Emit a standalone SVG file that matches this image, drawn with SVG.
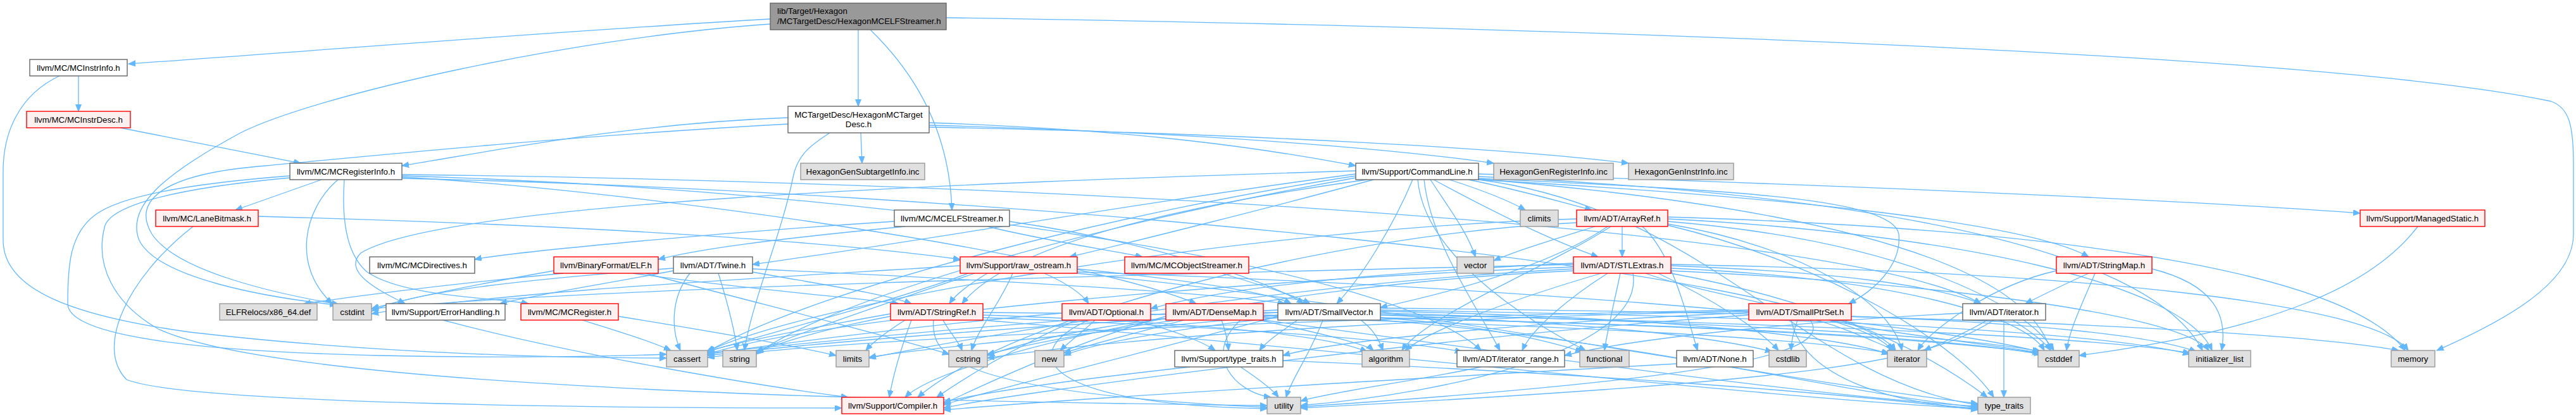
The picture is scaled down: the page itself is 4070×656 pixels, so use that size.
<svg xmlns="http://www.w3.org/2000/svg" width="4070" height="656" viewBox="0 0 4070 656">
<defs>
<style>
.e{fill:none;stroke:#63b8ff;stroke-width:1.3;marker-end:url(#ah)}
rect{stroke-width:1.4}
.w{fill:#ffffff;stroke:#666666}
.g{fill:#e0e0e0;stroke:#999999}
.r{fill:#fff0f0;stroke:#ff0000}
.t{fill:#999999;stroke:#666666}
text{font-family:"Liberation Sans",Arial,Helvetica,sans-serif;font-size:13.3px;fill:#000000;text-anchor:middle}
text.l{text-anchor:start}
</style>
<marker id="ah" markerUnits="userSpaceOnUse" markerWidth="12" markerHeight="10" refX="11" refY="4.5" orient="auto"><path d="M0,0 L11,4.5 L0,9 z" fill="#63b8ff" stroke="#63b8ff"/></marker>
</defs>
<rect x="0" y="0" width="4070" height="656" fill="#ffffff" stroke="none"/>
<g id="edges">
<path class="e" d="M1217,30 C 900,48 500,80 203,101"/>
<path class="e" d="M1217,38 C 900,60 500,150 380,210 C 250,280 200,330 220,380 C 250,440 420,470 532,482"/>
<path class="e" d="M1356,47 L1356,168"/>
<path class="e" d="M1375,47 C 1440,110 1500,200 1504,332"/>
<path class="e" d="M1495,28 C 2600,45 3700,90 4030,160 C 4060,170 4066,200 4066,260 L4066,370 C 4066,450 3950,510 3850,554"/>
<path class="e" d="M124,120 L124,176"/>
<path class="e" d="M94,120 C 30,150 5,210 5,270 L5,380 C 5,460 120,500 300,525 C 600,560 900,566 1053,566"/>
<path class="e" d="M190,202 L475,258"/>
<path class="e" d="M1245,186 C 1000,195 800,235 635,262"/>
<path class="e" d="M1245,196 C 900,215 600,245 420,262 C 250,275 210,320 240,370 C 280,430 440,465 535,481"/>
<path class="e" d="M1311,210 C 1280,230 1260,245 1253,280 C 1235,370 1190,470 1176,554"/>
<path class="e" d="M1360,210 L1362,258"/>
<path class="e" d="M1468,194 C 1800,205 2000,235 2142,262"/>
<path class="e" d="M1468,198 C 1900,210 2200,235 2360,258"/>
<path class="e" d="M1468,201 C 2000,212 2400,236 2573,258"/>
<path class="e" d="M508,284 L372,332"/>
<path class="e" d="M534,284 C 480,330 460,420 525,480"/>
<path class="e" d="M544,284 C 540,340 545,400 580,430 C 640,470 780,470 835,480"/>
<path class="e" d="M458,278 C 300,290 190,310 150,340 C 110,370 107,420 107,480 C 107,530 300,555 600,562 C 850,567 1000,562 1053,560"/>
<path class="e" d="M458,281 C 250,300 170,330 165,360 C 150,420 180,480 250,520 C 400,590 1000,630 2002,641"/>
<path class="e" d="M635,280 C 1000,300 1700,400 1890,480"/>
<path class="e" d="M635,276 C 1500,285 2900,350 3130,480"/>
<path class="e" d="M635,278 C 1400,300 2200,420 2340,554"/>
<path class="e" d="M635,282 C 1500,300 2900,420 2995,554"/>
<path class="e" d="M2320,284 C 2400,300 2450,315 2515,332"/>
<path class="e" d="M2265,284 C 2350,330 2450,380 2525,406"/>
<path class="e" d="M2336,282 C 2700,300 2990,310 3000,370 C 3005,420 2960,460 2921,480"/>
<path class="e" d="M2232,284 C 2200,360 2150,440 2112,480"/>
<path class="e" d="M2336,284 C 2800,310 3200,350 3300,406"/>
<path class="e" d="M2160,284 C 1900,320 1600,380 1520,480"/>
<path class="e" d="M2142,275 C 1800,320 1400,390 1189,418"/>
<path class="e" d="M2250,284 C 2260,380 2330,480 2370,554"/>
<path class="e" d="M2142,270 C 1500,290 700,320 570,400 C 540,430 600,460 640,480"/>
<path class="e" d="M2336,275 C 3000,295 3500,320 3729,337"/>
<path class="e" d="M2170,284 C 2000,330 1800,380 1690,406"/>
<path class="e" d="M2142,278 C 1800,330 1300,450 1118,556"/>
<path class="e" d="M2290,284 C 2340,300 2380,315 2410,332"/>
<path class="e" d="M2336,283 C 2900,330 3200,420 3240,554"/>
<path class="e" d="M2240,284 C 2250,400 2400,500 2505,554"/>
<path class="e" d="M2336,279 C 3000,310 3400,400 3480,554"/>
<path class="e" d="M2142,281 C 1700,360 1300,480 1195,560"/>
<path class="e" d="M2336,284 C 2700,330 2850,600 3125,640"/>
<path class="e" d="M2260,284 C 2290,330 2320,370 2331,406"/>
<path class="e" d="M2563,358 L2563,406"/>
<path class="e" d="M2520,358 C 2450,380 2400,395 2360,412"/>
<path class="e" d="M2540,358 C 2450,420 2300,460 2181,486"/>
<path class="e" d="M2545,358 C 2450,420 2250,500 2215,554"/>
<path class="e" d="M2595,358 C 2640,400 2660,480 2682,554"/>
<path class="e" d="M2491,352 C 2100,370 1600,500 1450,628"/>
<path class="e" d="M2491,346 C 2000,360 1300,470 1116,556"/>
<path class="e" d="M2635,350 C 3000,380 3200,480 3245,554"/>
<path class="e" d="M2635,346 C 3100,370 3450,450 3495,554"/>
<path class="e" d="M2635,354 C 2850,390 2990,480 3005,554"/>
<path class="e" d="M2635,343 C 3200,360 3700,420 3800,554"/>
<path class="e" d="M2635,356 C 2900,420 3100,550 3150,628"/>
<path class="e" d="M2640,420 C 2900,430 3050,450 3130,480"/>
<path class="e" d="M2540,432 C 2480,470 2420,520 2405,554"/>
<path class="e" d="M2486,428 C 2000,450 1500,560 1430,628"/>
<path class="e" d="M2530,432 C 2400,470 2260,520 2220,554"/>
<path class="e" d="M2486,422 C 2000,440 1300,500 1118,560"/>
<path class="e" d="M2640,424 C 3000,440 3200,500 3230,554"/>
<path class="e" d="M2486,418 C 2000,430 1000,450 587,488"/>
<path class="e" d="M2620,432 C 2700,470 2780,520 2810,554"/>
<path class="e" d="M2560,432 C 2550,480 2540,520 2535,554"/>
<path class="e" d="M2640,428 C 3100,450 3450,500 3490,554"/>
<path class="e" d="M2600,432 C 2700,470 2950,500 2990,554"/>
<path class="e" d="M2486,425 C 2000,450 1500,540 1373,566"/>
<path class="e" d="M2640,418 C 3300,430 3750,480 3805,554"/>
<path class="e" d="M2640,432 C 2900,480 3050,560 3140,628"/>
<path class="e" d="M2580,432 C 2600,550 2300,620 2055,641"/>
<path class="e" d="M2486,416 C 2200,430 1950,450 1818,488"/>
<path class="e" d="M2019,500 C 1800,560 1550,620 1491,640"/>
<path class="e" d="M2050,506 C 2030,520 2000,540 1990,554"/>
<path class="e" d="M2150,506 C 2170,520 2180,540 2185,554"/>
<path class="e" d="M2019,494 C 1700,510 1300,540 1118,562"/>
<path class="e" d="M2181,495 C 2700,510 3100,530 3225,556"/>
<path class="e" d="M2181,498 C 2500,510 2700,530 2800,556"/>
<path class="e" d="M2019,490 C 1800,500 1650,530 1560,562"/>
<path class="e" d="M2181,502 C 2350,515 2450,540 2500,556"/>
<path class="e" d="M2181,490 C 2800,500 3300,520 3460,560"/>
<path class="e" d="M2181,492 C 2600,500 2900,530 2985,560"/>
<path class="e" d="M2019,498 C 1800,520 1450,550 1373,565"/>
<path class="e" d="M2181,487 C 3000,495 3600,520 3790,554"/>
<path class="e" d="M2019,502 C 1850,520 1720,545 1681,562"/>
<path class="e" d="M2181,506 C 2600,540 2900,620 3125,644"/>
<path class="e" d="M2090,506 C 2070,560 2040,600 2032,628"/>
<path class="e" d="M2763,498 C 2300,530 1600,620 1491,645"/>
<path class="e" d="M2840,506 C 2835,520 2830,540 2830,554"/>
<path class="e" d="M2870,506 C 2920,520 2960,540 2995,554"/>
<path class="e" d="M2890,506 C 3000,530 3150,545 3225,558"/>
<path class="e" d="M2925,500 C 3200,510 3400,530 3470,556"/>
<path class="e" d="M2860,506 C 2900,560 2700,600 2055,643"/>
<path class="e" d="M2763,494 C 2400,510 2100,540 2027,562"/>
<path class="e" d="M2763,490 C 2200,500 1400,530 1118,565"/>
<path class="e" d="M2763,492 C 2300,500 1800,530 1560,566"/>
<path class="e" d="M2830,506 C 2850,600 3000,640 3125,645"/>
<path class="e" d="M3101,495 C 2900,505 2600,530 2472,562"/>
<path class="e" d="M3140,506 C 3100,530 3060,545 3040,554"/>
<path class="e" d="M3180,506 C 3210,525 3230,540 3240,554"/>
<path class="e" d="M3166,506 L3166,628"/>
<path class="e" d="M3150,506 C 3050,570 2900,600 2055,645"/>
<path class="e" d="M3300,432 C 3260,450 3230,465 3200,480"/>
<path class="e" d="M3400,425 C 3500,450 3520,500 3510,554"/>
<path class="e" d="M3310,432 C 3290,480 3270,520 3265,554"/>
<path class="e" d="M3249,428 C 3150,450 3050,520 3030,554"/>
<path class="e" d="M3820,358 C 3750,450 3600,520 3285,562"/>
<path class="e" d="M1413,350 C 1100,370 800,400 750,410"/>
<path class="e" d="M1430,358 C 1200,380 1100,395 1040,410"/>
<path class="e" d="M1560,358 C 1650,380 1750,395 1805,406"/>
<path class="e" d="M1595,350 C 1800,380 2000,440 2060,480"/>
<path class="e" d="M890,432 C 700,450 550,470 480,480"/>
<path class="e" d="M875,428 C 750,450 650,470 587,488"/>
<path class="e" d="M1000,432 C 1200,460 1350,470 1420,480"/>
<path class="e" d="M1020,432 C 1200,480 1400,530 1500,560"/>
<path class="e" d="M1189,425 C 1500,440 1900,460 2030,480"/>
<path class="e" d="M1189,430 C 1300,450 1400,465 1440,480"/>
<path class="e" d="M1064,428 C 950,450 850,465 790,480"/>
<path class="e" d="M1090,432 C 1060,470 1060,520 1075,554"/>
<path class="e" d="M1064,424 C 850,440 650,460 587,492"/>
<path class="e" d="M1135,432 C 1150,480 1160,520 1165,554"/>
<path class="e" d="M1560,432 C 1530,450 1510,465 1500,480"/>
<path class="e" d="M1600,432 C 1580,480 1545,520 1535,554"/>
<path class="e" d="M1650,432 C 1690,450 1710,465 1720,480"/>
<path class="e" d="M1702,425 C 1850,440 2000,460 2040,480"/>
<path class="e" d="M1517,420 C 1200,440 800,460 587,496"/>
<path class="e" d="M1530,432 C 1400,480 1200,530 1118,556"/>
<path class="e" d="M1540,432 C 1400,480 1250,530 1195,556"/>
<path class="e" d="M1702,430 C 2300,450 3000,500 3222,556"/>
<path class="e" d="M1702,432 C 2200,480 2800,600 3125,638"/>
<path class="e" d="M1930,432 C 1990,450 2040,465 2070,480"/>
<path class="e" d="M1730,506 C 1710,525 1690,540 1675,554"/>
<path class="e" d="M1790,506 C 1850,520 1900,540 1920,554"/>
<path class="e" d="M1700,506 C 1600,550 1520,600 1480,628"/>
<path class="e" d="M1720,506 C 1600,560 1650,640 2002,646"/>
<path class="e" d="M1678,495 C 1500,510 1250,540 1118,560"/>
<path class="e" d="M1930,506 C 1935,520 1940,540 1941,554"/>
<path class="e" d="M1870,506 C 1800,525 1720,545 1681,558"/>
<path class="e" d="M1860,506 C 1750,520 1620,545 1560,560"/>
<path class="e" d="M1960,506 C 1900,560 1950,620 2008,628"/>
<path class="e" d="M1990,506 C 2100,530 2160,545 2170,554"/>
<path class="e" d="M1842,500 C 1700,540 1550,610 1491,638"/>
<path class="e" d="M1996,498 C 2600,510 3000,530 3222,558"/>
<path class="e" d="M1996,494 C 2700,505 3300,530 3460,558"/>
<path class="e" d="M1996,502 C 2500,515 2850,535 2984,558"/>
<path class="e" d="M1842,496 C 1600,510 1300,540 1118,558"/>
<path class="e" d="M1996,506 C 2400,560 2900,630 3125,642"/>
<path class="e" d="M1490,506 C 1500,525 1515,540 1520,554"/>
<path class="e" d="M1430,506 C 1400,525 1380,540 1368,554"/>
<path class="e" d="M1440,506 C 1420,560 1410,600 1405,628"/>
<path class="e" d="M1475,506 C 1470,560 1500,620 2002,644"/>
<path class="e" d="M1407,500 C 1300,520 1220,545 1195,558"/>
<path class="e" d="M1407,496 C 1300,515 1170,540 1118,555"/>
<path class="e" d="M1553,498 C 1900,510 2100,530 2160,556"/>
<path class="e" d="M1553,502 C 1900,515 2200,535 2310,556"/>
<path class="e" d="M1553,494 C 2300,500 3000,520 3225,560"/>
<path class="e" d="M1553,506 C 2200,560 2800,630 3125,646"/>
<path class="e" d="M1960,580 C 1990,600 2010,615 2020,628"/>
<path class="e" d="M2027,570 C 2500,590 2900,620 3125,648"/>
<path class="e" d="M1880,580 C 1700,600 1550,620 1491,636"/>
<path class="e" d="M2340,580 C 2250,600 2100,620 2055,634"/>
<path class="e" d="M2649,575 C 2200,600 1700,630 1491,648"/>
<path class="e" d="M700,506 C 900,560 1200,610 1340,628"/>
<path class="e" d="M920,506 C 980,525 1030,540 1060,554"/>
<path class="e" d="M977,500 C 1100,520 1250,545 1321,562"/>
<path class="e" d="M408,342 C 900,355 1300,380 1517,410"/>
<path class="e" d="M305,358 C 200,440 150,550 200,600 C 300,640 1000,645 1330,645"/>
</g>
<g id="node-HexagonMCELFStreamer"><rect class="t" x="1217" y="5" width="278" height="42"/><text class="l" x="1228" y="22">lib/Target/Hexagon</text><text class="l" x="1228" y="38">/MCTargetDesc/HexagonMCELFStreamer.h</text></g>
<g id="node-MCInstrInfo"><rect class="w" x="47" y="94" width="154" height="26"/><text x="124" y="111.6">llvm/MC/MCInstrInfo.h</text></g>
<g id="node-MCInstrDesc"><rect class="r" x="42" y="176" width="164" height="26"/><text x="124" y="193.6">llvm/MC/MCInstrDesc.h</text></g>
<g id="node-HexagonMCTargetDesc"><rect class="w" x="1245" y="168" width="223" height="42"/><text x="1356.5" y="185.5">MCTargetDesc/HexagonMCTarget</text><text x="1356.5" y="201">Desc.h</text></g>
<g id="node-MCRegisterInfo"><rect class="w" x="458" y="258" width="177" height="26"/><text x="546.5" y="275.6">llvm/MC/MCRegisterInfo.h</text></g>
<g id="node-HexagonGenSubtargetInfo"><rect class="g" x="1265" y="258" width="196" height="26"/><text x="1363" y="275.6">HexagonGenSubtargetInfo.inc</text></g>
<g id="node-CommandLine"><rect class="w" x="2142" y="258" width="194" height="26"/><text x="2239" y="275.6">llvm/Support/CommandLine.h</text></g>
<g id="node-HexagonGenRegisterInfo"><rect class="g" x="2360" y="258" width="189" height="26"/><text x="2454.5" y="275.6">HexagonGenRegisterInfo.inc</text></g>
<g id="node-HexagonGenInstrInfo"><rect class="g" x="2573" y="258" width="166" height="26"/><text x="2656" y="275.6">HexagonGenInstrInfo.inc</text></g>
<g id="node-LaneBitmask"><rect class="r" x="246" y="332" width="162" height="26"/><text x="327" y="349.6">llvm/MC/LaneBitmask.h</text></g>
<g id="node-MCELFStreamer"><rect class="w" x="1413" y="332" width="182" height="26"/><text x="1504" y="349.6">llvm/MC/MCELFStreamer.h</text></g>
<g id="node-climits"><rect class="g" x="2402" y="332" width="60" height="26"/><text x="2432" y="349.6">climits</text></g>
<g id="node-ArrayRef"><rect class="r" x="2491" y="332" width="144" height="26"/><text x="2563" y="349.6">llvm/ADT/ArrayRef.h</text></g>
<g id="node-ManagedStatic"><rect class="r" x="3729" y="332" width="197" height="26"/><text x="3827.5" y="349.6">llvm/Support/ManagedStatic.h</text></g>
<g id="node-MCDirectives"><rect class="w" x="584" y="406" width="166" height="26"/><text x="667" y="423.6">llvm/MC/MCDirectives.h</text></g>
<g id="node-ELF"><rect class="r" x="875" y="406" width="165" height="26"/><text x="957.5" y="423.6">llvm/BinaryFormat/ELF.h</text></g>
<g id="node-Twine"><rect class="w" x="1064" y="406" width="125" height="26"/><text x="1126.5" y="423.6">llvm/ADT/Twine.h</text></g>
<g id="node-raw_ostream"><rect class="r" x="1517" y="406" width="185" height="26"/><text x="1609.5" y="423.6">llvm/Support/raw_ostream.h</text></g>
<g id="node-MCObjectStreamer"><rect class="r" x="1777" y="406" width="196" height="26"/><text x="1875" y="423.6">llvm/MC/MCObjectStreamer.h</text></g>
<g id="node-vector"><rect class="g" x="2302" y="406" width="58" height="26"/><text x="2331" y="423.6">vector</text></g>
<g id="node-STLExtras"><rect class="r" x="2486" y="406" width="154" height="26"/><text x="2563" y="423.6">llvm/ADT/STLExtras.h</text></g>
<g id="node-StringMap"><rect class="r" x="3249" y="406" width="151" height="26"/><text x="3324.5" y="423.6">llvm/ADT/StringMap.h</text></g>
<g id="node-ELFRelocs"><rect class="g" x="347" y="480" width="154" height="26"/><text x="424" y="497.6">ELFRelocs/x86_64.def</text></g>
<g id="node-cstdint"><rect class="g" x="526" y="480" width="61" height="26"/><text x="556.5" y="497.6">cstdint</text></g>
<g id="node-ErrorHandling"><rect class="w" x="610" y="480" width="188" height="26"/><text x="704" y="497.6">llvm/Support/ErrorHandling.h</text></g>
<g id="node-MCRegister"><rect class="r" x="823" y="480" width="154" height="26"/><text x="900" y="497.6">llvm/MC/MCRegister.h</text></g>
<g id="node-StringRef"><rect class="r" x="1407" y="480" width="146" height="26"/><text x="1480" y="497.6">llvm/ADT/StringRef.h</text></g>
<g id="node-Optional"><rect class="r" x="1678" y="480" width="140" height="26"/><text x="1748" y="497.6">llvm/ADT/Optional.h</text></g>
<g id="node-DenseMap"><rect class="r" x="1842" y="480" width="154" height="26"/><text x="1919" y="497.6">llvm/ADT/DenseMap.h</text></g>
<g id="node-SmallVector"><rect class="w" x="2019" y="480" width="162" height="26"/><text x="2100" y="497.6">llvm/ADT/SmallVector.h</text></g>
<g id="node-SmallPtrSet"><rect class="r" x="2763" y="480" width="162" height="26"/><text x="2844" y="497.6">llvm/ADT/SmallPtrSet.h</text></g>
<g id="node-iterator_h"><rect class="w" x="3101" y="480" width="131" height="26"/><text x="3166.5" y="497.6">llvm/ADT/iterator.h</text></g>
<g id="node-cassert"><rect class="g" x="1053" y="554" width="65" height="26"/><text x="1085.5" y="571.6">cassert</text></g>
<g id="node-string"><rect class="g" x="1142" y="554" width="53" height="26"/><text x="1168.5" y="571.6">string</text></g>
<g id="node-limits"><rect class="g" x="1321" y="554" width="52" height="26"/><text x="1347" y="571.6">limits</text></g>
<g id="node-cstring"><rect class="g" x="1499" y="554" width="61" height="26"/><text x="1529.5" y="571.6">cstring</text></g>
<g id="node-new"><rect class="g" x="1635" y="554" width="46" height="26"/><text x="1658" y="571.6">new</text></g>
<g id="node-type_traits_h"><rect class="w" x="1856" y="554" width="171" height="26"/><text x="1941.5" y="571.6">llvm/Support/type_traits.h</text></g>
<g id="node-algorithm"><rect class="g" x="2152" y="554" width="75" height="26"/><text x="2189.5" y="571.6">algorithm</text></g>
<g id="node-iterator_range"><rect class="w" x="2302" y="554" width="170" height="26"/><text x="2387" y="571.6">llvm/ADT/iterator_range.h</text></g>
<g id="node-functional"><rect class="g" x="2496" y="554" width="78" height="26"/><text x="2535" y="571.6">functional</text></g>
<g id="node-None"><rect class="w" x="2649" y="554" width="121" height="26"/><text x="2709.5" y="571.6">llvm/ADT/None.h</text></g>
<g id="node-cstdlib"><rect class="g" x="2795" y="554" width="59" height="26"/><text x="2824.5" y="571.6">cstdlib</text></g>
<g id="node-iterator"><rect class="g" x="2982" y="554" width="62" height="26"/><text x="3013" y="571.6">iterator</text></g>
<g id="node-cstddef"><rect class="g" x="3220" y="554" width="65" height="26"/><text x="3252.5" y="571.6">cstddef</text></g>
<g id="node-initializer_list"><rect class="g" x="3458" y="554" width="98" height="26"/><text x="3507" y="571.6">initializer_list</text></g>
<g id="node-memory"><rect class="g" x="3778" y="554" width="69" height="26"/><text x="3812.5" y="571.6">memory</text></g>
<g id="node-Compiler"><rect class="r" x="1330" y="628" width="161" height="26"/><text x="1410.5" y="645.6">llvm/Support/Compiler.h</text></g>
<g id="node-utility"><rect class="g" x="2002" y="628" width="53" height="26"/><text x="2028.5" y="645.6">utility</text></g>
<g id="node-type_traits"><rect class="g" x="3125" y="628" width="83" height="26"/><text x="3166.5" y="645.6">type_traits</text></g>
</svg>
